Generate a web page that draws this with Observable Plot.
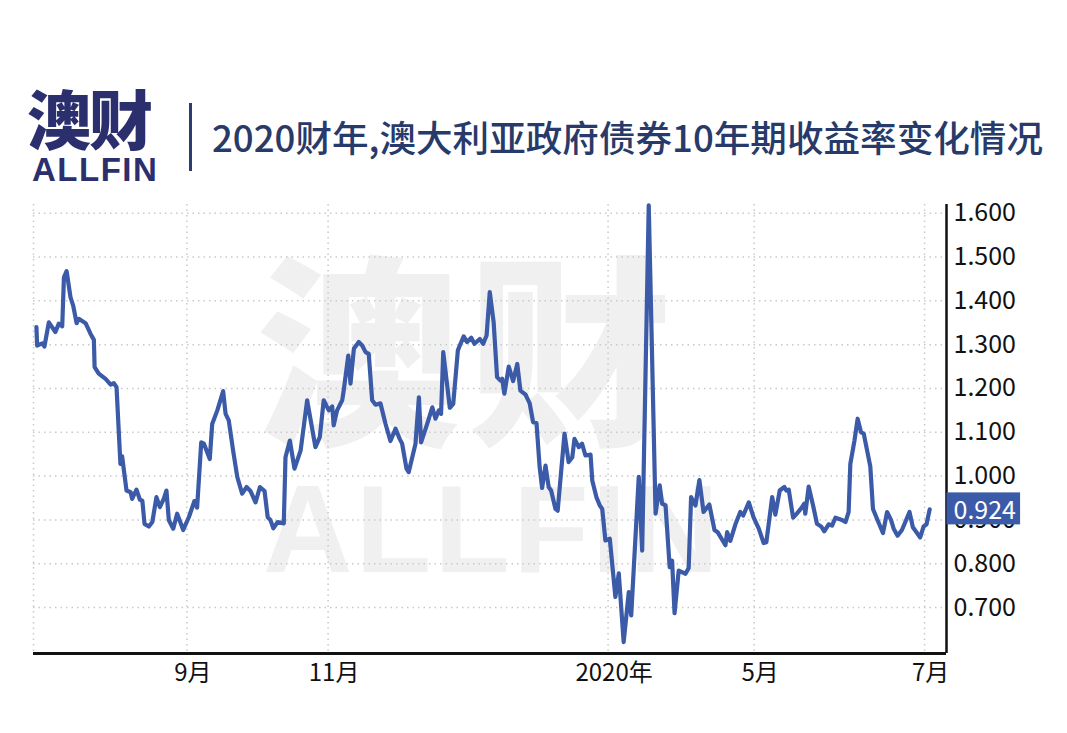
<!DOCTYPE html>
<html>
<head>
<meta charset="utf-8">
<script src="https://cdn.jsdelivr.net/npm/d3@7"></script>
<script src="https://cdn.jsdelivr.net/npm/@observablehq/plot@0.6"></script>
<style>
  html, body { margin: 0; padding: 0; background: #fff; }
  body { width: 1067px; height: 733px; position: relative; overflow: hidden; font-family: "Noto Sans CJK SC", "Noto Sans", sans-serif; }
  .wm-cn { position: absolute; left: 256px; top: 250px; font-size: 204px; line-height: 0.9; font-weight: 900; color: #f0f0f0; letter-spacing: 8px; white-space: nowrap; }
  .wm-en { position: absolute; left: 263px; top: 467px; font-family: "Liberation Sans", Arial, sans-serif; font-size: 124px; line-height: 1; font-weight: 700; color: #f0f0f0; white-space: nowrap; letter-spacing: 3px; }
  .logo-cn { position: absolute; left: 27px; top: 86px; font-size: 64px; line-height: 0.95; font-weight: 900; color: #2b2f6d; white-space: nowrap; letter-spacing: -2px; }
  .logo-en { position: absolute; left: 32px; top: 153px; font-family: "Liberation Sans", Arial, sans-serif; font-size: 33px; line-height: 1; font-weight: 700; color: #2b2f6d; letter-spacing: 1.5px; white-space: nowrap; }
  .sep { position: absolute; left: 189px; top: 103px; width: 3px; height: 68px; background: #2c3c6c; }
  .title { position: absolute; left: 212px; top: 113px; font-size: 36.6px; line-height: 1.3; font-weight: 500; color: #283a6a; white-space: nowrap; }
  #chart { position: absolute; left: 0; top: 190px; }
</style>
</head>
<body>
<div class="wm-cn">澳财</div>
<div class="wm-en">ALLFIN</div>
<div class="logo-cn">澳财</div>
<div class="logo-en">ALLFIN</div>
<div class="sep"></div>
<div class="title">2020财年,澳大利亚政府债券10年期收益率变化情况</div>
<div id="chart"></div>
<script>
// Days since 2019-07-01 for each observation
const days = [0.2,0.5,2.6,3.5,5.3,8.0,9.4,10.8,11.5,12.6,14.2,15.3,16.7,17.6,20.4,22.4,23.8,24.1,25.8,28.6,
  30.7,32.0,33.1,34.7,35.4,37.2,38.9,39.5,41.3,42.7,43.7,44.6,46.4,47.8,49.5,50.9,52.5,53.6,54.6,56.4,
  58.0,60.5,62.8,65.1,66.2,67.9,69.0,71.4,72.4,74.5,76.9,77.9,79.2,81.0,82.7,84.7,86.5,88.1,90.2,92.0,
  93.9,95.2,96.3,97.5,99.3,101.8,102.5,104.3,106.2,108.7,111.4,114.8,116.6,118.2,120.3,121.7,122.3,123.7,125.8,126.4,
  128.3,129.2,130.6,132.6,134.0,135.4,136.7,138.1,139.5,141.5,143.6,145.6,147.7,149.4,150.4,152.2,153.1,155.9,157.3,158.2,
  160.7,162.8,164.1,165.5,166.4,167.3,170.0,171.4,173.3,174.4,175.7,177.1,178.8,180.1,182.3,183.7,185.1,186.4,188.0,189.4,
  190.8,191.5,192.4,194.2,196.0,197.7,199.0,201.1,202.8,204.2,205.6,206.9,207.9,209.3,210.6,211.6,213.4,214.3,217.1,218.8,
  220.3,221.2,223.0,224.3,225.7,227.8,228.5,230.2,231.6,232.6,233.9,235.7,238.0,239.4,241.4,243.5,244.5,247.6,249.0,251.7,
  254.5,256.2,257.2,258.6,260.3,261.3,262.3,264.0,266.8,268.1,269.1,270.9,272.5,274.2,276.6,278.7,280.0,283.2,283.9,285.2,
  287.3,289.3,290.5,292.8,294.8,296.9,298.9,300.0,302.4,303.7,305.5,307.4,308.2,309.2,311.0,312.6,314.7,315.6,316.0,317.4,
  319.2,320.8,322.5,323.8,325.6,327.0,328.4,331.1,332.5,333.8,334.5,336.2,337.5,338.9,340.0,342.7,343.8,345.7,347.9,349.6,
  351.2,352.3,353.9,355.7,358.8,360.2,363.2,364.6,365.8,367.1];

// 10-year yield (%)
const yields = [1.340,1.298,1.303,1.296,1.351,1.329,1.348,1.342,1.454,1.468,1.408,1.389,1.349,1.359,1.349,1.325,1.311,1.249,1.234,1.222,
  1.209,1.212,1.203,1.028,1.045,0.967,0.963,0.948,0.969,0.946,0.944,0.891,0.885,0.895,0.952,0.929,0.948,0.967,0.899,0.880,
  0.914,0.877,0.906,0.943,0.928,1.077,1.074,1.039,1.119,1.150,1.194,1.142,1.127,1.058,0.998,0.960,0.975,0.966,0.940,0.975,
  0.966,0.906,0.900,0.881,0.895,0.892,1.043,1.081,1.017,1.058,1.173,1.066,1.089,1.173,1.150,1.159,1.116,1.150,1.173,1.195,
  1.275,1.211,1.291,1.306,1.298,1.283,1.279,1.173,1.163,1.166,1.119,1.080,1.108,1.085,1.074,1.017,1.009,1.074,1.180,1.077,
  1.119,1.157,1.131,1.150,1.142,1.283,1.156,1.165,1.287,1.302,1.319,1.306,1.316,1.302,1.313,1.302,1.321,1.420,1.351,1.226,
  1.218,1.222,1.188,1.250,1.217,1.256,1.195,1.186,1.166,1.123,1.121,1.020,0.973,1.024,0.975,0.967,0.925,0.921,1.097,1.032,
  1.043,1.085,1.066,1.074,1.047,1.049,0.990,0.952,0.933,0.925,0.853,0.857,0.724,0.778,0.621,0.735,0.682,0.998,0.830,1.618,
  0.914,0.979,0.937,0.933,0.792,0.807,0.687,0.784,0.777,0.790,0.952,0.933,0.991,0.918,0.935,0.877,0.872,0.842,0.872,0.852,
  0.890,0.918,0.910,0.940,0.905,0.880,0.847,0.849,0.952,0.912,0.967,0.975,0.967,0.969,0.905,0.915,0.929,0.937,0.914,0.976,
  0.933,0.891,0.885,0.874,0.890,0.887,0.905,0.900,0.895,0.918,1.028,1.081,1.131,1.100,1.097,1.022,0.925,0.899,0.870,0.918,
  0.900,0.880,0.864,0.877,0.918,0.883,0.860,0.885,0.890,0.924];

const xTickDates = ["2019-09-01", "2019-10-29", "2020-02-21", "2020-04-21", "2020-06-30"];
const xTickLabels = ["9月", "11月", "2020年", "5月", "7月"];
const yTicks = [0.7, 0.8, 0.9, 1.0, 1.1, 1.2, 1.3, 1.4, 1.5, 1.6];
const lastValueLabel = "0.924";

const start = Date.UTC(2019, 6, 1);
const data = days.map((d, i) => ({date: new Date(start + d * 864e5), value: yields[i]}));
const xStart = new Date("2019-06-30");
const xEnd = new Date("2020-07-09");
const yMin = 0.595, yMax = 1.62;
const tickDates = xTickDates.map(s => new Date(s));
const labelMap = new Map(tickDates.map((d, i) => [+d, xTickLabels[i]]));
const last = data[data.length - 1];

const grid = {stroke: "#c9c9c9", strokeWidth: 1.5, strokeDasharray: "1.5,4", strokeOpacity: 1};

const chart = Plot.plot({
  width: 1067,
  height: 513,
  marginTop: 14,
  marginBottom: 50,
  marginLeft: 33,
  marginRight: 121,
  style: {background: "transparent", fontFamily: "'Noto Sans CJK SC', 'Noto Sans', sans-serif", color: "#111", overflow: "visible"},
  x: {type: "utc", domain: [xStart, xEnd]},
  y: {domain: [yMin, yMax]},
  marks: [
    Plot.ruleY(yTicks, {...grid}),
    Plot.ruleX([xStart, ...tickDates], {...grid}),
    Plot.line(data, {x: "date", y: "value", stroke: "#3b5ba8", strokeWidth: 4.2, strokeLinejoin: "round", strokeLinecap: "round"}),
    Plot.ruleX([xEnd], {stroke: "#111", strokeWidth: 2.5}),
    Plot.ruleY([yMin], {stroke: "#111", strokeWidth: 3}),
    Plot.axisY(yTicks, {anchor: "right", tickSize: 0, tickPadding: 7, fontSize: 25, fill: "#111", tickFormat: d => d.toFixed(3), label: null}),
    Plot.axisX(tickDates, {anchor: "bottom", tickSize: 0, tickPadding: 10, fontSize: 24, fill: "#111", dx: 6, tickFormat: d => labelMap.get(+d), label: null}),
    Plot.text([last], {x: () => xEnd, y: "value", text: () => lastValueLabel, textAnchor: "start", dx: 7, dy: 2, fill: "#fff", fontSize: 25, className: "last-label"})
  ]
});
document.getElementById("chart").appendChild(chart);

// draw a coloured box behind the last-value label
const lab = chart.querySelector("g.last-label text") || chart.querySelector(".last-label text");
if (lab) {
  const bb = lab.getBBox();
  const rect = document.createElementNS("http://www.w3.org/2000/svg", "rect");
  rect.setAttribute("x", bb.x - 7);
  rect.setAttribute("y", bb.y + 2);
  rect.setAttribute("width", bb.width + 11);
  rect.setAttribute("height", bb.height - 4);
  rect.setAttribute("fill", "#3b5ba8");
  const tr = lab.getAttribute("transform");
  if (tr) rect.setAttribute("transform", tr);
  lab.parentNode.insertBefore(rect, lab);
}
</script>
</body>
</html>
